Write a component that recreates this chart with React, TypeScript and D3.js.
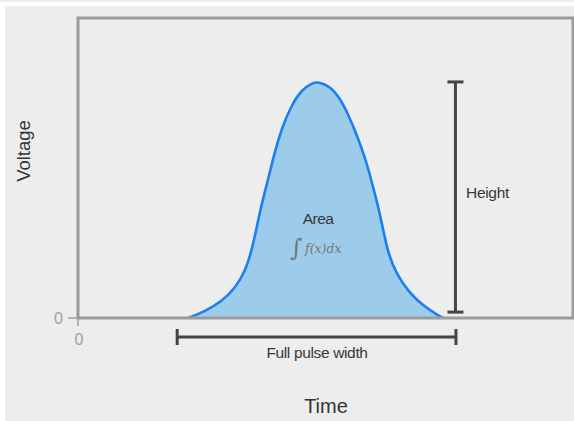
// @ts-nocheck
import React from 'react';
import * as d3 from 'd3';

// pulse shape (time in arbitrary units, voltage relative to peak)
const pulseTime = [
  22.4, 25.8, 29.2, 31.9, 33.9, 35.2, 36.2, 37.2, 38.6, 39.9, 41.3, 43.3, 45.3, 47.6, 48.6,
  51.0, 53.0, 54.7, 56.4, 58.1, 59.4, 60.8, 61.8, 62.8, 64.5, 66.8, 69.5, 72.8, 73.9,
];
const pulseVoltage = [
  0, 0.028, 0.071, 0.127, 0.198, 0.283, 0.381, 0.48, 0.593, 0.706, 0.805, 0.904, 0.967, 0.997, 1,
  0.982, 0.932, 0.861, 0.777, 0.678, 0.579, 0.466, 0.367, 0.268, 0.183, 0.113, 0.056, 0.011, 0,
];

// annotation brackets
const widthBracket = [20.2, 76.4];
const heightBracket = [0.025, 1];
const xTicks = [0];
const yTicks = [0];

const W = 574;
const H = 421;

const App = () => {
  const x = d3.scaleLinear().domain([0, 100]).range([77, 573]);
  const y = d3.scaleLinear().domain([0, 1.275]).range([318, 17]);

  const points = pulseTime.map((t, i) => ({ t, v: pulseVoltage[i] }));

  const area = d3.area()
    .x(d => x(d.t))
    .y0(y(0))
    .y1(d => y(d.v))
    .curve(d3.curveBasis);

  const line = d3.line()
    .x(d => x(d.t))
    .y(d => y(d.v))
    .curve(d3.curveBasis);

  const font = '"Liberation Sans", Arial, sans-serif';
  const bx0 = x(widthBracket[0]);
  const bx1 = x(widthBracket[1]);
  const by = 337;
  const hx = x(widthBracket[1]) - 0.5;
  const hy0 = y(heightBracket[0]);
  const hy1 = y(heightBracket[1]);

  return (
    <div style={{ position: 'absolute', left: 0, top: 0 }}>
      <svg width={W} height={H} style={{ display: 'block' }}>
        <rect x={0} y={0} width={W} height={H} fill="#fff" />
        <rect x={0} y={0} width={W} height={2} fill="#efefef" />
        <rect x={5} y={6} width={W - 5} height={H - 6} fill="#ededed" />

        {/* pulse */}
        <path d={area(points)} fill="#9dcbea" />
        <path d={line(points)} fill="none" stroke="#1a7ff2" strokeWidth={2.6} />

        {/* frame */}
        <path
          d={`M${x(0) + 1},${y(0)} V${y(1.275) + 1} H${x(100)} V${y(0)} Z`}
          fill="none"
          stroke="#9b9b9b"
          strokeWidth={3}
        />

        {/* ticks */}
        {yTicks.map(t => (
          <g key={'y' + t}>
            <line x1={68} x2={x(0)} y1={y(t)} y2={y(t)} stroke="#a0a0a0" strokeWidth={1.5} />
            <text x={63} y={y(t)} dy="0.35em" textAnchor="end" fontFamily={font} fontSize={16} fill="#a0a0a0">{t}</text>
          </g>
        ))}
        {xTicks.map(t => (
          <g key={'x' + t}>
            <line x1={x(t) + 1} x2={x(t) + 1} y1={y(0)} y2={y(0) + 8} stroke="#a0a0a0" strokeWidth={1.5} />
            <text x={x(t) + 2} y={345} textAnchor="middle" fontFamily={font} fontSize={16} fill="#a0a0a0">{t}</text>
          </g>
        ))}

        {/* full pulse width bracket */}
        <g stroke="#454545" strokeWidth={3}>
          <line x1={bx0} x2={bx1} y1={by} y2={by} />
          <line x1={bx0} x2={bx0} y1={329} y2={345} />
          <line x1={bx1} x2={bx1} y1={329} y2={345} />
        </g>
        <text x={317} y={358} textAnchor="middle" fontFamily={font} fontSize={15.5} letterSpacing={-0.35} fill="#383838">Full pulse width</text>

        {/* height bracket */}
        <g stroke="#454545" strokeWidth={3}>
          <line x1={hx} x2={hx} y1={hy0} y2={hy1} />
          <line x1={hx - 8} x2={hx + 8} y1={hy1} y2={hy1} />
          <line x1={hx - 8} x2={hx + 8} y1={hy0} y2={hy0} />
        </g>
        <text x={466} y={198} fontFamily={font} fontSize={15.5} letterSpacing={-0.3} fill="#383838">Height</text>

        {/* area label */}
        <text x={318} y={224} textAnchor="middle" fontFamily={font} fontSize={15.5} letterSpacing={-0.5} fill="#383838">Area</text>
        <text x={290} y={256} fontFamily={'"DejaVu Serif", serif'} fontSize={24} fill="#777">∫</text>
        <text x={305} y={253} fontFamily={'"DejaVu Serif", serif'} fontStyle="italic" fontSize={12.5} fill="#777">f(x)dx</text>

        {/* axis titles */}
        <text
          transform={`translate(30,151) rotate(-90)`}
          textAnchor="middle"
          fontFamily={font}
          fontSize={18.5}
          fill="#333"
        >Voltage</text>
        <text x={326} y={413} textAnchor="middle" fontFamily={font} fontSize={20} fill="#333">Time</text>
      </svg>
    </div>
  );
};

export default App;
